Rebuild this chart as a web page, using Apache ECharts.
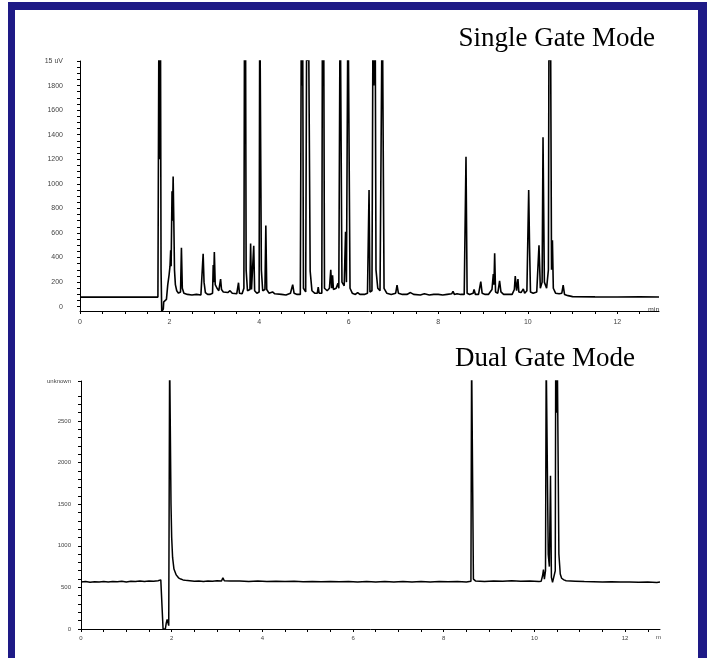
<!DOCTYPE html>
<html>
<head>
<meta charset="utf-8">
<script src="https://cdn.jsdelivr.net/npm/echarts@6/dist/echarts.min.js"></script>
<style>
html,body{margin:0;padding:0;background:#fff;}
#chart{width:707px;height:658px;}
</style>
</head>
<body>
<div id="chart"></div>
<script>
// ---------- Data ----------
const singleTitle = 'Single Gate Mode';
const dualTitle = 'Dual Gate Mode';

const singleTime = [0,0.5,1.0,1.5,1.74,1.765,1.78,1.795,1.81,1.825,1.85,1.86,1.87,1.9,1.93,1.96,1.99,2.01,2.025,2.035,2.055,2.065,2.08,2.095,2.11,2.13,2.16,2.2,2.245,2.265,2.285,2.32,2.4,2.5,2.6,2.7,2.735,2.75,2.77,2.8,2.85,2.9,2.96,2.975,2.985,3.0,3.02,3.06,3.1,3.14,3.16,3.2,3.3,3.35,3.4,3.5,3.54,3.56,3.62,3.66,3.675,3.685,3.695,3.71,3.74,3.795,3.81,3.83,3.865,3.88,3.9,3.95,4.0,4.015,4.035,4.05,4.08,4.13,4.15,4.17,4.22,4.3,4.35,4.5,4.6,4.7,4.75,4.78,4.85,4.92,4.945,4.955,4.97,4.99,5.04,5.065,5.085,5.1,5.12,5.14,5.16,5.18,5.24,5.3,5.32,5.34,5.4,5.415,5.425,5.44,5.46,5.52,5.57,5.6,5.62,5.64,5.66,5.72,5.76,5.78,5.81,5.83,5.85,5.9,5.93,5.95,5.985,6.005,6.03,6.08,6.15,6.2,6.25,6.35,6.42,6.455,6.475,6.52,6.545,6.56,6.59,6.61,6.65,6.7,6.75,6.77,6.79,6.85,6.95,7.05,7.08,7.11,7.2,7.3,7.38,7.45,7.6,7.69,7.8,7.9,8.0,8.1,8.2,8.3,8.33,8.36,8.42,8.45,8.5,8.58,8.62,8.645,8.7,8.78,8.8,8.83,8.9,8.95,8.98,9.05,9.12,9.2,9.23,9.245,9.26,9.28,9.33,9.37,9.4,9.43,9.46,9.55,9.65,9.7,9.72,9.75,9.78,9.8,9.85,9.9,9.93,9.98,10.02,10.04,10.06,10.12,10.2,10.25,10.28,10.32,10.34,10.37,10.42,10.46,10.475,10.49,10.505,10.53,10.55,10.57,10.62,10.7,10.76,10.79,10.82,10.9,10.93,11.0,11.5,12.0,12.5,12.93];
const singleSignal = [78,79,78,79,78,2600,1200,2600,300,-40,-45,-20,40,50,60,180,260,330,460,330,940,700,1060,700,300,180,130,110,120,480,150,110,100,95,100,95,110,430,200,115,100,100,110,340,200,445,180,150,130,225,140,120,115,130,110,105,195,110,105,150,2600,1500,2600,300,130,140,515,140,150,495,130,110,120,2600,2600,300,130,140,660,140,110,120,105,100,95,110,180,110,100,100,2600,1800,2600,150,120,2600,2000,2600,2600,290,290,130,110,110,160,110,110,2600,1800,2600,150,130,150,300,150,255,140,150,190,150,2600,2600,200,170,610,200,2600,2600,150,110,100,115,100,100,110,950,120,130,2600,1800,2600,300,150,130,2600,2600,150,110,100,110,175,110,100,100,115,100,95,105,95,100,100,95,100,105,125,100,105,115,100,100,1220,110,100,110,140,100,100,205,110,100,100,140,265,180,435,120,110,210,120,130,100,100,100,140,250,130,225,120,115,145,110,130,950,475,120,110,120,500,150,200,1380,200,150,300,2600,2000,2600,300,540,150,110,105,110,175,100,90,95,82,80,79,80,79];

const dualTime = [0,0.1,0.2,0.3,0.4,0.5,0.6,0.7,0.8,0.9,1.0,1.1,1.2,1.3,1.4,1.5,1.6,1.7,1.76,1.78,1.795,1.81,1.86,1.88,1.9,1.92,1.935,1.945,1.955,1.97,1.985,2.0,2.02,2.05,2.1,2.15,2.2,2.25,2.3,2.4,2.5,2.6,2.7,2.8,2.9,3.0,3.1,3.13,3.16,3.3,3.5,3.7,3.9,4.1,4.3,4.5,4.7,4.9,5.1,5.3,5.5,5.7,5.9,6.1,6.3,6.5,6.7,6.9,7.1,7.3,7.5,7.7,7.9,8.1,8.3,8.5,8.6,8.615,8.635,8.655,8.7,8.9,9.1,9.3,9.5,9.7,9.9,10.1,10.15,10.18,10.2,10.22,10.245,10.26,10.28,10.305,10.33,10.355,10.375,10.4,10.44,10.46,10.47,10.485,10.495,10.505,10.52,10.54,10.57,10.6,10.65,10.7,10.9,11.1,11.3,11.5,11.7,11.9,12.1,12.3,12.5,12.7,12.77];
const dualSignal = [565,570,562,568,565,570,566,572,568,574,566,575,570,578,572,578,574,580,590,608,600,0,0,70,115,120,40,40,3300,3300,1500,1100,860,720,650,615,600,590,585,580,575,578,572,578,574,580,578,615,580,576,578,572,576,570,574,570,574,568,572,567,572,568,570,566,570,566,570,565,570,566,570,566,572,568,572,566,575,3300,3300,600,578,572,578,574,580,574,576,570,575,640,713,600,700,3300,3300,900,750,1840,620,560,570,700,3300,3300,2600,3300,3300,900,660,610,590,580,575,570,568,565,568,564,566,562,565,560,565];

const singleYLabels = [0,200,400,600,800,1000,1200,1400,1600,1800,2000];
const singleYTopLabel = '15 uV';
const singleYTicks = [0,50,100,150,200,250,300,350,400,450,500,550,600,650,700,750,800,850,900,950,1000,1050,1100,1150,1200,1250,1300,1350,1400,1450,1500,1550,1600,1650,1700,1750,1800,1850,1900,1950,2000];
const dualYLabels = [0,500,1000,1500,2000,2500,2980];
const dualYTopLabel = 'unknown';
const dualYTicks = [0,100,200,300,400,500,600,700,800,900,1000,1100,1200,1300,1400,1500,1600,1700,1800,1900,2000,2100,2200,2300,2400,2500,2600,2700,2800,2980];
const xLabels = [0,2,4,6,8,10,12];
const xTicks = [0,0.5,1,1.5,2,2.5,3,3.5,4,4.5,5,5.5,6,6.5,7,7.5,8,8.5,9,9.5,10,10.5,11,11.5,12,12.5];
const singleXName = 'min';
const dualXName = 'm';

// ---------- Build ----------
const pairs = (xs, ys) => xs.map((x, i) => [x, ys[i]]);
const NAVY = '#1e1a86';
const labelFont = 'Liberation Sans, Arial, sans-serif';

const chart = echarts.init(document.getElementById('chart'), null, {renderer: 'canvas'});

function xAxisCfg(gridIndex, max, name, fontSize, margin, nameGap, namePad) {
  return {
    type: 'value', gridIndex, min: 0, max,
    name, nameLocation: 'end', nameGap,
    nameTextStyle: {color: '#444', fontSize, fontFamily: labelFont, verticalAlign: 'top', padding: namePad},
    axisLine: {show: true, onZero: false, lineStyle: {color: '#000', width: 1}},
    axisTick: {show: true, customValues: xTicks, length: 3, lineStyle: {color: '#000', width: 1}},
    axisLabel: {customValues: xLabels, color: '#444', fontSize, fontFamily: labelFont, margin},
    splitLine: {show: false}
  };
}
function yAxisCfg(gridIndex, min, max, labels, ticks, topLabel, fontSize, margin) {
  return {
    type: 'value', gridIndex, min, max,
    axisLine: {show: true, onZero: false, lineStyle: {color: '#000', width: 1}},
    axisTick: {show: true, customValues: ticks, length: 3, lineStyle: {color: '#000', width: 1}},
    axisLabel: {
      customValues: labels, color: '#444', fontSize, fontFamily: labelFont, margin,
      formatter: v => (v === labels[labels.length - 1] ? topLabel : String(v))
    },
    splitLine: {show: false}
  };
}

const option = {
  animation: false,
  backgroundColor: '#fff',
  title: [
    {text: singleTitle, right: 52, top: 25, padding: 0, textStyle: {fontFamily: 'Liberation Serif, Times New Roman, serif', fontSize: 27, fontWeight: 'normal', color: '#000'}},
    {text: dualTitle, right: 72, top: 345, padding: 0, textStyle: {fontFamily: 'Liberation Serif, Times New Roman, serif', fontSize: 27, fontWeight: 'normal', color: '#000'}}
  ],
  grid: [
    {left: 80, top: 61, width: 579, height: 250},
    {left: 81, top: 381, width: 579, height: 248}
  ],
  xAxis: [
    xAxisCfg(0, 12.93, singleXName, 7, 8, -11, [-4, 0, 0, 0]),
    xAxisCfg(1, 12.77, dualXName, 6, 6, -4, [5, 0, 0, 0])
  ],
  yAxis: [
    yAxisCfg(0, -35, 2000, singleYLabels, singleYTicks, singleYTopLabel, 7, 17),
    yAxisCfg(1, 0, 2980, dualYLabels, dualYTicks, dualYTopLabel, 6, 10)
  ],
  series: [
    {type: 'line', xAxisIndex: 0, yAxisIndex: 0, data: pairs(singleTime, singleSignal), showSymbol: false, clip: true,
     lineStyle: {color: '#000', width: 1.6}},
    {type: 'line', xAxisIndex: 1, yAxisIndex: 1, data: pairs(dualTime, dualSignal), showSymbol: false, clip: true,
     lineStyle: {color: '#000', width: 1.5}}
  ],
  graphic: [
    {type: 'rect', shape: {x: 8, y: 2, width: 7, height: 656}, style: {fill: NAVY}, silent: true},
    {type: 'rect', shape: {x: 8, y: 2, width: 699, height: 8}, style: {fill: NAVY}, silent: true},
    {type: 'rect', shape: {x: 698, y: 2, width: 9, height: 656}, style: {fill: NAVY}, silent: true}
  ]
};
chart.setOption(option);
</script>
</body>
</html>
